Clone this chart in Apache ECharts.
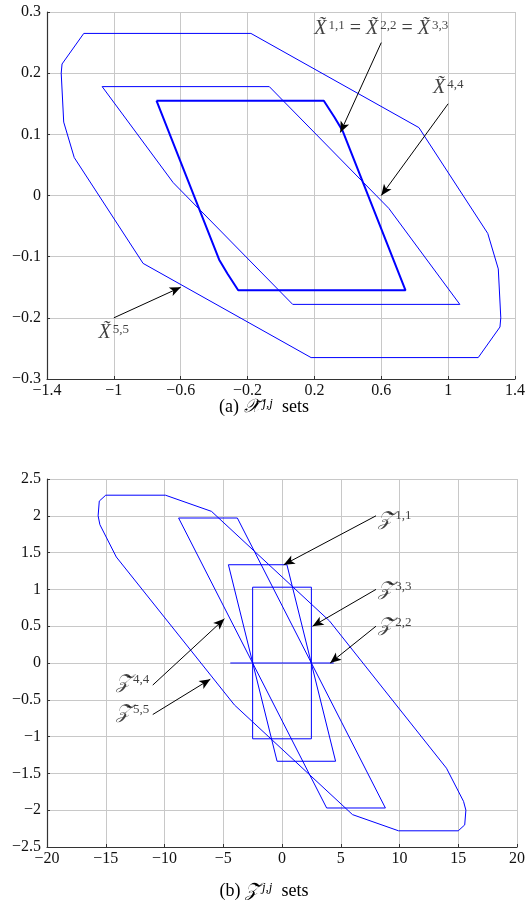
<!DOCTYPE html>
<html lang="en">
<head>
    <meta charset="UTF-8">
    <title>X and Z sets</title>
    <script src="https://cdn.jsdelivr.net/npm/echarts@6/dist/echarts.min.js"></script>
    <style>
        html, body { margin: 0; padding: 0; background: #fff; }
    </style>
</head>
<body>
    <div id="main" style="width: 528px;height:908px;"></div>
    <script type="text/javascript">
        // (a) X sets, polygon vertices
        var x11 = [[-0.745, 0.155], [0.256, 0.155], [0.32, 0.128], [0.37, 0.105], [0.745, -0.155],
                   [-0.256, -0.155], [-0.32, -0.128], [-0.37, -0.105], [-0.745, 0.155]];
        var x44 = [[-1.07, 0.178], [-0.07, 0.178], [0.645, -0.021], [1.07, -0.178],
                   [0.07, -0.178], [-0.645, 0.021], [-1.07, 0.178]];
        var x55 = [[-1.18, 0.265], [-0.18, 0.265], [0.825, 0.111], [1.237, -0.062], [1.30, -0.12],
                   [1.315, -0.2], [1.31, -0.215], [1.18, -0.265], [0.18, -0.265], [-0.825, -0.111],
                   [-1.237, 0.062], [-1.30, 0.12], [-1.315, 0.2], [-1.31, 0.215], [-1.18, 0.265]];

        // (b) Z sets
        var z11 = [[-4.56, 1.335], [0.42, 1.335], [4.56, -1.335], [-0.42, -1.335], [-4.56, 1.335]];
        var z22 = [[-4.4, 0], [4.4, 0]];
        var z33 = [[-2.5, 1.03], [2.5, 1.03], [2.5, -1.03], [-2.5, -1.03], [-2.5, 1.03]];
        var z44 = [[-8.8, 1.97], [-3.8, 1.97], [8.8, -1.97], [3.8, -1.97], [-8.8, 1.97]];
        var z55 = [[-15, 2.28], [-9.92, 2.28], [-6, 2.06], [4.05, 0.57], [14, -1.43], [15.45, -1.88],
                   [15.65, -2.0], [15.55, -2.2], [15, -2.28], [9.92, -2.28], [6, -2.06], [-4.05, -0.57],
                   [-14.1, 1.44], [-15.5, 1.88], [-15.65, 2.0], [-15.55, 2.2], [-15, 2.28]];

        // annotation arrows [from, to] and label anchors
        var arrowsA = [[[0.6, 0.25], [0.355, 0.103]], [[1.0, 0.15], [0.6, 0.0]], [[-1.0, -0.2], [-0.6, -0.15]]];
        var labelsA = [
            {pos: [0.6, 0.272], text: '{v|X\u0303}{s|1,1}{t| = }{v|X\u0303}{s|2,2}{t| = }{v|X\u0303}{s|3,3}', place: 'inside'},
            {pos: [1.0, 0.176], text: '{v|X\u0303}{s|4,4}', place: 'inside'},
            {pos: [-1.0, -0.225], text: '{v|X\u0303}{s|5,5}', place: 'inside'}
        ];
        var arrowsB = [[[8, 2], [0.15, 1.335]], [[8, 1], [2.6, 0.5]], [[8, 0.5], [4.1, 0]],
                       [[-11, -0.3], [-4.9, 0.6]], [[-11, -0.7], [-6.1, -0.22]]];
        var labelsB = [
            {pos: [8.2, 1.95], text: '{v|\uD835\uDCB5\u0303}{s|1,1}', place: 'right'},
            {pos: [8.2, 0.99], text: '{v|\uD835\uDCB5\u0303}{s|3,3}', place: 'right'},
            {pos: [8.2, 0.5], text: '{v|\uD835\uDCB5\u0303}{s|2,2}', place: 'right'},
            {pos: [-11.3, -0.27], text: '{v|\uD835\uDCB5\u0303}{s|4,4}', place: 'left'},
            {pos: [-11.3, -0.68], text: '{v|\uD835\uDCB5\u0303}{s|5,5}', place: 'left'}
        ];

        var serif = '"Liberation Serif", "DejaVu Serif", serif';
        var richText = {
            v: {fontFamily: serif, fontStyle: 'italic', fontSize: 20, color: '#111', verticalAlign: 'bottom'},
            s: {fontFamily: serif, fontSize: 13, color: '#111', verticalAlign: 'top', padding: [0, 0, 0, 2]},
            t: {fontFamily: serif, fontSize: 20, color: '#111', verticalAlign: 'bottom'}
        };
        var capRich = {
            t: {fontFamily: serif, fontSize: 18, color: '#111', verticalAlign: 'bottom'},
            c: {fontFamily: serif, fontStyle: 'italic', fontSize: 19, color: '#111', verticalAlign: 'bottom'},
            s: {fontFamily: serif, fontStyle: 'italic', fontSize: 13, color: '#111', verticalAlign: 'top', padding: [0, 0, 0, 3]}
        };

        function fmt(v) {
            return String(Math.round(v * 10) / 10).replace('-', '\u2212');
        }

        function makeAxis(idx, min, max, interval, isX) {
            return {
                type: 'value', gridIndex: idx, min: min, max: max, interval: interval,
                axisLine: {show: true, onZero: false, lineStyle: {color: '#333', width: 1.2}},
                axisTick: {show: true, inside: true, length: 3, lineStyle: {color: '#333'}},
                splitLine: {show: true, lineStyle: {color: '#c8c8c8', width: 1}},
                axisLabel: {
                    formatter: fmt, color: '#111', fontFamily: serif, fontSize: 16,
                    margin: isX ? 4 : 6
                }
            };
        }

        function poly(data, gi, width) {
            return {
                type: 'line', xAxisIndex: gi, yAxisIndex: gi, data: data,
                showSymbol: false, symbol: 'none', silent: true,
                lineStyle: {color: '#0000ff', width: width || 1}
            };
        }

        function notes(labels, arrows, gi) {
            return {
                type: 'scatter', xAxisIndex: gi, yAxisIndex: gi, symbolSize: 0, silent: true,
                data: labels.map(function (l) {
                    return {
                        value: l.pos,
                        label: {
                            show: true, position: l.place, distance: 0,
                            formatter: l.text, rich: richText
                        }
                    };
                }),
                markLine: {
                    silent: true, symbol: ['none', 'arrow'], symbolSize: [7, 11],
                    lineStyle: {color: '#000', type: 'solid', width: 1},
                    label: {show: false},
                    data: arrows.map(function (a) {
                        return [{coord: a[0]}, {coord: a[1]}];
                    })
                }
            };
        }

        var myChart = echarts.init(document.getElementById('main'));
        var option = {
            animation: false,
            backgroundColor: '#fff',
            grid: [
                {left: 47, top: 12, width: 471, height: 367},
                {left: 47, top: 479, width: 473, height: 368}
            ],
            xAxis: [makeAxis(0, -1.4, 1.4, 0.4, true), makeAxis(1, -20, 20, 5, true)],
            yAxis: [makeAxis(0, -0.3, 0.3, 0.1, false), makeAxis(1, -2.5, 2.5, 0.5, false)],
            graphic: [
                {
                    type: 'text', left: 'center', top: 397,
                    style: {text: '{t|(a) }{c|\uD835\uDCB3\u0303}{s|j,j}{t|  sets}', rich: capRich}
                },
                {
                    type: 'text', left: 'center', top: 881,
                    style: {text: '{t|(b) }{c|\uD835\uDCB5\u0303}{s|j,j}{t|  sets}', rich: capRich}
                }
            ],
            series: [
                poly(x55, 0), poly(x44, 0), poly(x11, 0, 2),
                notes(labelsA, arrowsA, 0),
                poly(z55, 1), poly(z44, 1), poly(z11, 1), poly(z33, 1), poly(z22, 1),
                notes(labelsB, arrowsB, 1)
            ]
        };
        myChart.setOption(option);
    </script>
</body>
</html>
